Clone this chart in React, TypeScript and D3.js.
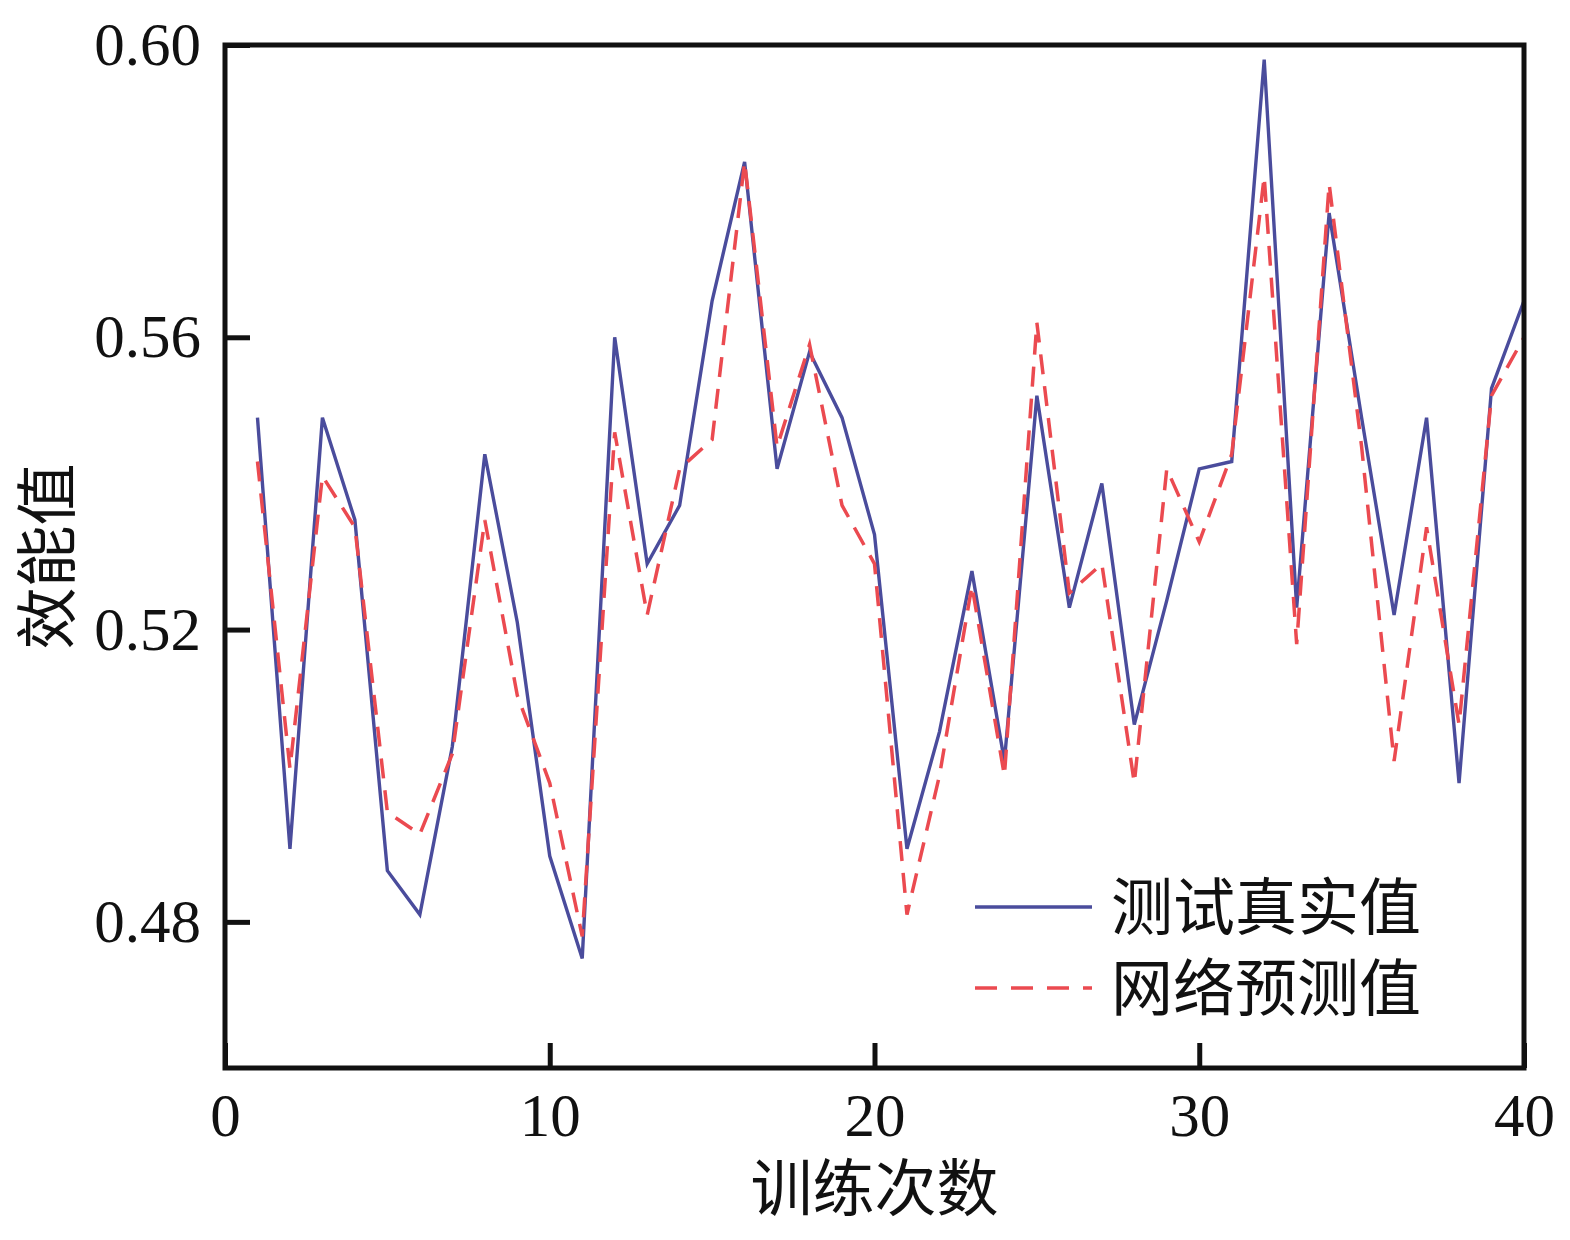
import React, { useEffect, useRef } from 'react';
import * as d3 from 'd3';

// 训练次数 1..40
const runs: number[] = d3.range(1, 41);

// 测试真实值
const actualValues: number[] = [
  0.549, 0.490, 0.549, 0.535, 0.487, 0.481, 0.504, 0.544, 0.521, 0.489,
  0.475, 0.560, 0.529, 0.537, 0.565, 0.584, 0.542, 0.558, 0.549, 0.533,
  0.490, 0.506, 0.528, 0.502, 0.552, 0.523, 0.540, 0.507, 0.524, 0.542,
  0.543, 0.598, 0.523, 0.577, 0.549, 0.522, 0.549, 0.499, 0.553, 0.565,
];

// 网络预测值
const predictedValues: number[] = [
  0.543, 0.501, 0.541, 0.534, 0.495, 0.492, 0.503, 0.535, 0.511, 0.499,
  0.478, 0.547, 0.522, 0.542, 0.546, 0.584, 0.545, 0.559, 0.537, 0.529,
  0.481, 0.500, 0.526, 0.500, 0.562, 0.525, 0.529, 0.499, 0.542, 0.532,
  0.544, 0.582, 0.518, 0.581, 0.545, 0.502, 0.534, 0.507, 0.552, 0.560,
];

const xTicks: number[] = [0, 10, 20, 30, 40];
const yTicks: number[] = [0.48, 0.52, 0.56, 0.60];
const legendLabels: string[] = ['测试真实值', '网络预测值'];

const App: React.FC = () => {
  const svgRef = useRef<SVGSVGElement>(null);

  useEffect(() => {
    if (!svgRef.current) return;

    const width = 1570;
    const height = 1240;
    const margin = { top: 45, right: 46, bottom: 172, left: 225 };
    const numFont = '"Liberation Serif", "Times New Roman", serif';
    const cjkFont = '"Liberation Serif", "Noto Sans CJK SC", serif';
    const blue = '#4a4c9c';
    const red = '#eb4a50';

    const svg = d3.select(svgRef.current)
      .attr('width', width)
      .attr('height', height);

    svg.selectAll('*').remove();

    const x = d3.scaleLinear()
      .domain([0, 40])
      .range([margin.left, width - margin.right]);

    const y = d3.scaleLinear()
      .domain([0.46, 0.60])
      .range([height - margin.bottom, margin.top]);

    const line = d3.line<number>()
      .x((_, i) => x(runs[i]))
      .y(d => y(d));

    svg.append('path')
      .datum(actualValues)
      .attr('fill', 'none')
      .attr('stroke', blue)
      .attr('stroke-width', 3.4)
      .attr('stroke-linejoin', 'miter')
      .attr('d', line);

    svg.append('path')
      .datum(predictedValues)
      .attr('fill', 'none')
      .attr('stroke', red)
      .attr('stroke-width', 3.5)
      .attr('stroke-dasharray', '20,12')
      .attr('d', line);

    // axes with inward ticks
    const xAxis = svg.append('g')
      .attr('transform', `translate(0,${height - margin.bottom})`)
      .call(d3.axisBottom(x).tickValues(xTicks).tickSizeInner(-25).tickSizeOuter(0).tickPadding(25).tickFormat(d3.format('d')));

    const yAxis = svg.append('g')
      .attr('transform', `translate(${margin.left},0)`)
      .call(d3.axisLeft(y).tickValues(yTicks).tickSizeInner(-25).tickSizeOuter(0).tickPadding(24).tickFormat(d3.format('.2f')));

    [xAxis, yAxis].forEach(g => {
      g.select('.domain').remove();
      g.selectAll('line').attr('stroke', '#111').attr('stroke-width', 5);
      g.selectAll('text')
        .attr('fill', '#111')
        .style('font-family', numFont)
        .style('font-size', '61px');
    });

    // frame
    svg.append('rect')
      .attr('x', margin.left)
      .attr('y', margin.top)
      .attr('width', width - margin.left - margin.right)
      .attr('height', height - margin.top - margin.bottom)
      .attr('fill', 'none')
      .attr('stroke', '#111')
      .attr('stroke-width', 5);

    // axis titles
    svg.append('text')
      .attr('x', (margin.left + width - margin.right) / 2)
      .attr('y', 1211)
      .attr('text-anchor', 'middle')
      .attr('fill', '#111')
      .style('font-family', cjkFont)
      .style('font-size', '62px')
      .text('训练次数');

    svg.append('text')
      .attr('transform', `translate(70,${(margin.top + height - margin.bottom) / 2}) rotate(-90)`)
      .attr('text-anchor', 'middle')
      .attr('fill', '#111')
      .style('font-family', cjkFont)
      .style('font-size', '62px')
      .text('效能值');

    // legend
    const legend = svg.append('g').attr('transform', 'translate(975,907)');
    const styles = [
      { color: blue, dash: null as string | null },
      { color: red, dash: '22,14' },
    ];
    legendLabels.forEach((label, i) => {
      const row = legend.append('g').attr('transform', `translate(0,${i * 81})`);
      row.append('line')
        .attr('x1', 0).attr('x2', 117)
        .attr('stroke', styles[i].color)
        .attr('stroke-width', 3.5)
        .attr('stroke-dasharray', styles[i].dash);
      row.append('text')
        .attr('x', 136)
        .attr('y', 23)
        .attr('fill', '#111')
        .style('font-family', cjkFont)
        .style('font-size', '62px')
        .text(label);
    });
  }, []);

  return (
    <svg ref={svgRef} style={{ position: 'absolute', left: 0, top: 0, background: '#fff' }}></svg>
  );
};

export default App;
